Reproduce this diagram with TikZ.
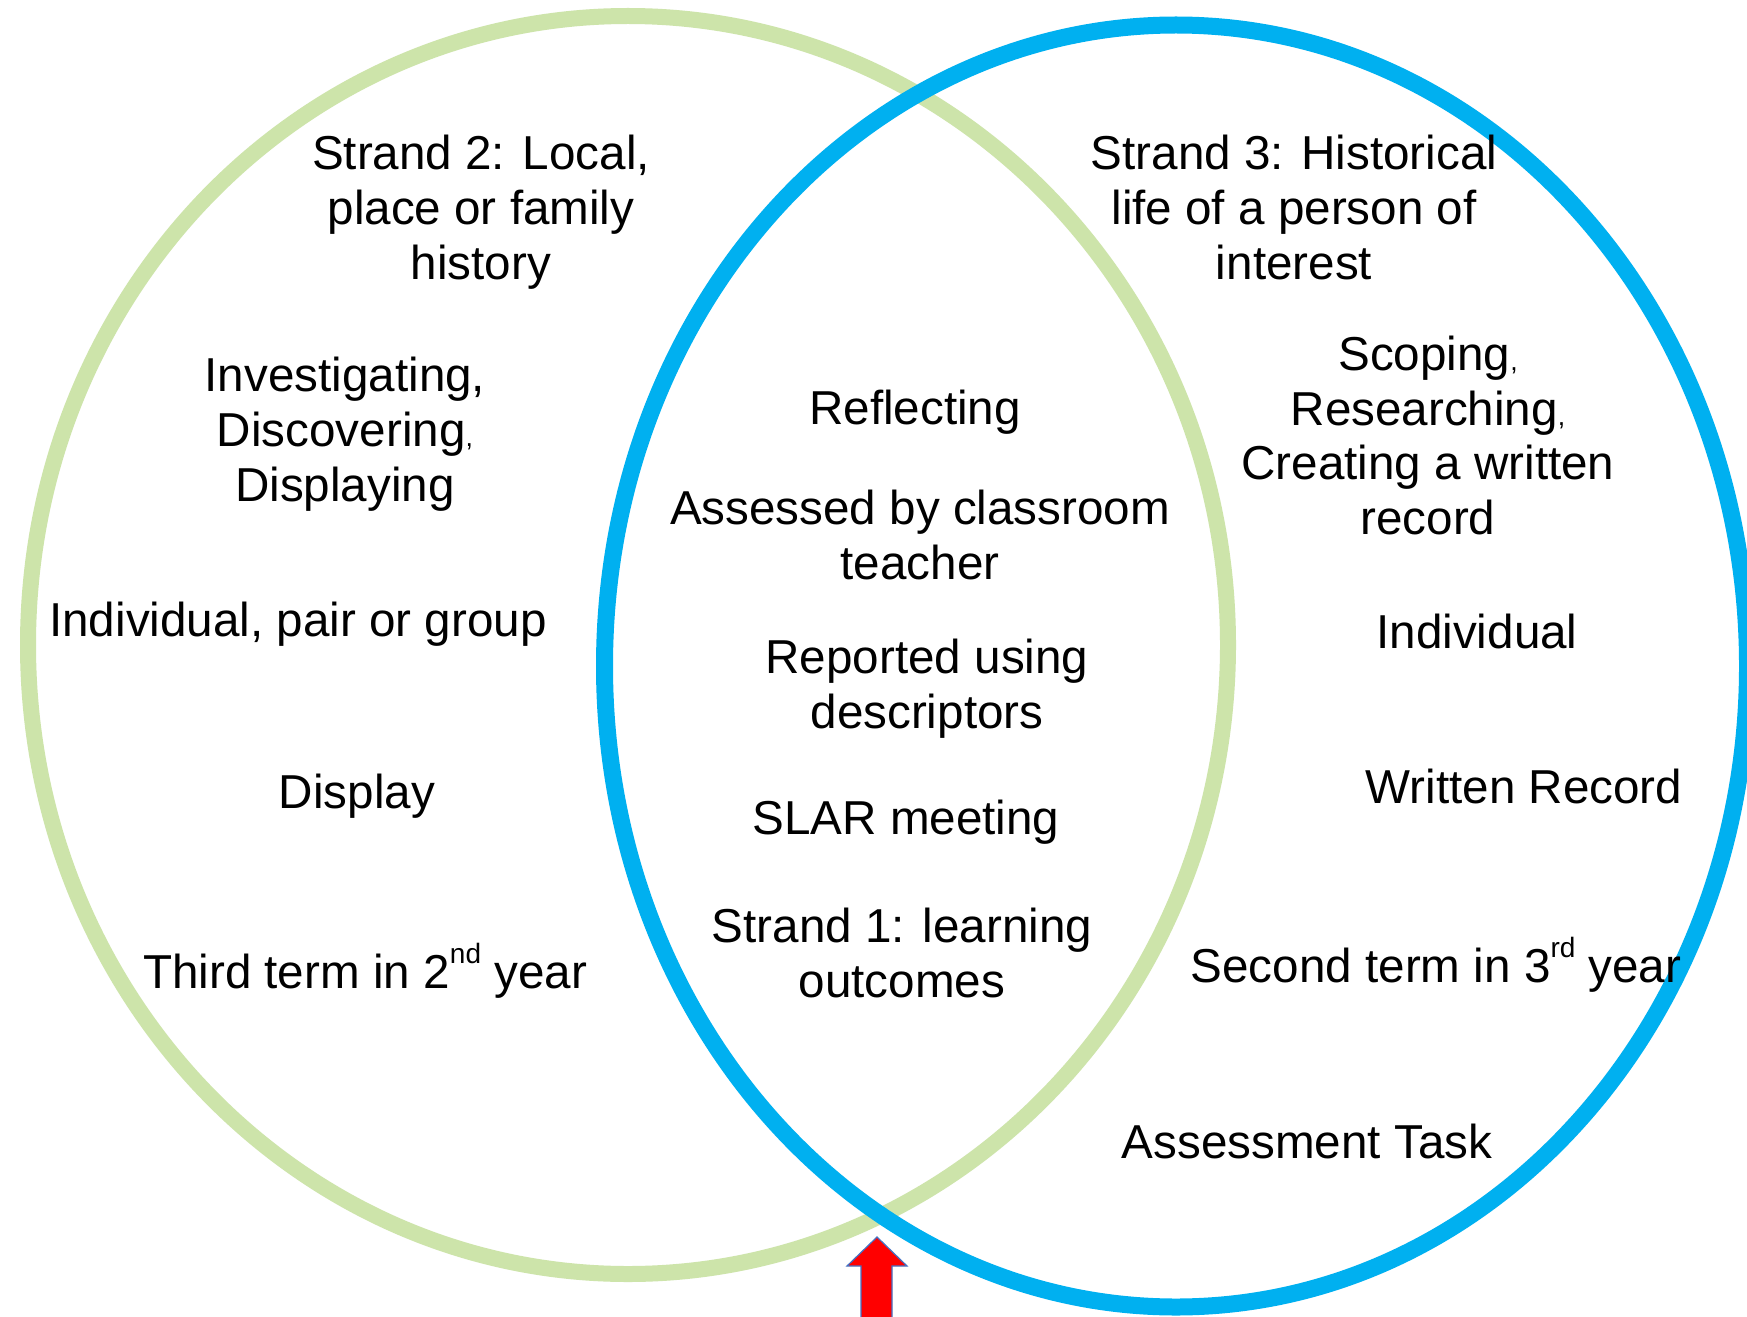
\documentclass[tikz,border=0pt]{standalone}
\usepackage{fontspec}
\setmainfont{Liberation Sans}
\definecolor{vgreen}{RGB}{205,228,170}
\definecolor{vblue}{RGB}{0,176,240}
\definecolor{arrowedge}{RGB}{68,114,196}
\newcommand{\smallcomma}{{\fontsize{20}{20}\selectfont,}}
\newcommand{\supx}[1]{\raisebox{18.5pt}{\fontsize{21}{21}\selectfont #1}}
\begin{document}
\begin{tikzpicture}[x=0.75pt,y=-0.75pt,
  lbl/.style={anchor=base,align=center,inner sep=0pt,
    font=\fontsize{35.7}{40.9}\selectfont}]
\useasboundingbox (0,0) rectangle (1747,1316);
\fill[white] (0,0) rectangle (1747,1316);
% circles
\draw[vgreen,line width=12pt] (628,645) ellipse [x radius=600, y radius=629];
\draw[vblue,line width=12.75pt] (1176,666) ellipse [x radius=571.5, y radius=641];
% left circle texts (base = baseline of last line)
\node[lbl] (s2) at (481,279) {Strand 2: Local,\\place or family\\history};
\node[lbl] (inv) at (345,501) {Investigating,\\Discovering\smallcomma\\Displaying};
\node[lbl] (ipg) at (298,636) {Individual, pair or group};
\node[lbl] (disp) at (357,808) {Display};
\node[lbl] (third) at (365,988) {Third term in 2\supx{nd} year};
% middle texts
\node[lbl] (refl) at (915,424) {Reflecting};
\node[lbl] (assd) at (920,579.5) {Assessed by classroom\\teacher};
\node[lbl] (rep) at (927,728.5) {Reported using\\descriptors};
\node[lbl] (slar) at (906,834) {SLAR meeting};
\node[lbl] (s1) at (902,997.5) {Strand 1: learning\\outcomes};
% right circle texts
\node[lbl] (s3) at (1294,279) {Strand 3: Historical\\life of a person of\\interest};
\node[lbl] (scop) at (1428,534.5) {Scoping\smallcomma\\Researching\smallcomma\\Creating a written\\record};
\node[lbl] (ind) at (1477,648) {Individual};
\node[lbl] (wr) at (1524,803) {Written Record};
\node[lbl] (second) at (1436,982) {Second term in 3\supx{rd} year};
\node[lbl] (at) at (1307,1158) {Assessment Task};
% red arrow
\draw[fill=red,draw=arrowedge,line width=0.9pt]
  (877,1237) -- (907,1266) -- (892,1266) -- (892,1320) -- (861,1320)
  -- (861,1266) -- (847,1266) -- cycle;
\end{tikzpicture}
\end{document}
